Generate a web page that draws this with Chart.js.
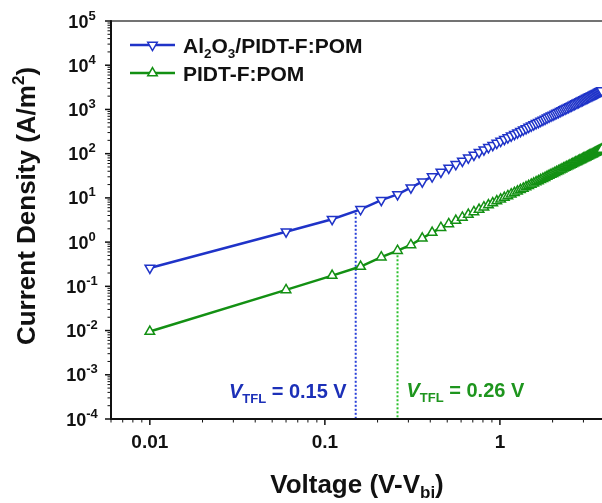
<!DOCTYPE html>
<html><head><meta charset="utf-8">
<script src="https://cdn.jsdelivr.net/npm/chart.js@4.4.1/dist/chart.umd.min.js"></script>
<style>html,body{margin:0;padding:0;background:#fff;overflow:hidden}#wrap{position:relative;width:602px;height:503px}</style>
</head><body><div id="wrap"><canvas id="c" width="602" height="503"></canvas></div>
<script>
// ---- data ----
const voltages = [0.01,0.06,0.11,0.16,0.21,0.26,0.31,0.36,0.41,0.46,0.51,0.56,0.61,0.66,0.71,0.76,0.81,0.86,0.91,0.96,
  1.01,1.06,1.11,1.16,1.21,1.26,1.31,1.36,1.41,1.46,1.51,1.56,1.61,1.66,1.71,1.76,1.81,1.86,1.91,1.96,
  2.01,2.06,2.11,2.16,2.21,2.26,2.31,2.36,2.41,2.46,2.51,2.56,2.61,2.66,2.71,2.76,2.81,2.86,2.91,2.96,
  3.01,3.06,3.11,3.16,3.21,3.26,3.31,3.36,3.41,3.46,3.51,3.56,3.61,3.66,3.71,3.76,3.81];
const currentAl2O3 = [0.26,1.72,3.3,5.5,8.9,12.0,17.0,23.2,30.4,38.5,47.5,57.5,68.5,80.6,93.6,108,123,139,156,174,
  193,212,232,253,275,298,322,347,373,399,427,455,485,515,546,578,611,645,680,716,
  752,790,828,867,908,949,991,1034,1078,1122,1168,1214,1262,1310,1359,1409,1460,1512,1565,1619,
  1673,1729,1785,1842,1900,1960,2020,2080,2142,2205,2269,2333,2399,2465,2532,2600,2669];
const currentPIDT = [0.0095,0.083,0.175,0.28,0.456,0.64,0.865,1.22,1.64,2.12,2.58,3.07,3.61,4.19,4.80,5.45,6.15,6.88,7.65,8.47,
  9.31,10.2,11.1,12.1,13.1,14.1,15.2,16.4,17.6,18.8,20.1,21.4,22.8,24.2,25.7,27.2,28.7,30.3,32.0,33.6,
  35.3,37.1,38.9,40.7,42.6,44.5,46.5,48.5,50.5,52.6,54.7,56.9,59.1,61.4,63.7,66.0,68.3,70.8,73.2,75.7,
  78.3,80.9,83.5,86.1,88.9,91.6,94.4,97.2,100,103,106,109,112,115,118,121,125];
const seriesNames = ['Al2O3/PIDT-F:POM', 'PIDT-F:POM'];
const vtflVoltages = [0.15, 0.26];
const vtflTopCurrent = [4.6, 0.62];
const vtflLabels = ['0.15 V', '0.26 V'];
const xTickLabels = [0.01, 0.1, 1];
const yDecades = [-4, -3, -2, -1, 0, 1, 2, 3, 4, 5];
const xRange = [0.006, 3.83];
const yRange = [1e-4, 1e5];

// ---- styling ----
const FONT = "'Liberation Sans', Arial, sans-serif";
const BLUE = '#1f33c8', GREEN = '#139013';
const BLUE_DOT = '#2a40d8', GREEN_DOT = '#2cc02c';
const BLUE_TXT = '#1c30b8', GREEN_TXT = '#1e951e';

function isMajor(v){ const l = Math.log10(v); return Math.abs(l - Math.round(l)) < 1e-6; }
function logTicks(min, max){
  const out = [];
  for (let e = Math.floor(Math.log10(min)); e <= Math.ceil(Math.log10(max)); e++){
    for (let m = 1; m <= 9; m++){
      const v = parseFloat((m * Math.pow(10, e)).toPrecision(6));
      if (v >= min * 0.9999 && v <= max * 1.0001) out.push({value: v});
    }
  }
  return out;
}
function fontStr(p){ return (p.i ? 'italic ' : '') + 'bold ' + p.s + 'px ' + FONT; }
function rich(ctx, parts, x, y, align, color){
  let w = 0;
  parts.forEach(p => { ctx.font = fontStr(p); p.w = ctx.measureText(p.t).width; w += p.w; });
  let cx = align === 'center' ? x - w / 2 : (align === 'right' ? x - w : x);
  ctx.textAlign = 'left'; ctx.textBaseline = 'alphabetic'; ctx.fillStyle = color;
  parts.forEach(p => { ctx.font = fontStr(p); ctx.fillText(p.t, cx, y + (p.dy || 0)); cx += p.w; });
}
function seg(ctx, x1, y1, x2, y2){ ctx.beginPath(); ctx.moveTo(x1, y1); ctx.lineTo(x2, y2); ctx.stroke(); }

const deco = {
  id: 'deco',
  afterDraw(chart){
    const {ctx, chartArea: a, scales: {x, y}} = chart;
    ctx.save();
    // frame top
    ctx.strokeStyle = '#444'; ctx.lineWidth = 1.5;
    seg(ctx, a.left, a.top, a.right, a.top);
    // axes lines
    ctx.strokeStyle = '#111'; ctx.lineWidth = 2;
    seg(ctx, a.left, a.top - 0.75, a.left, a.bottom + 1);
    seg(ctx, a.left - 1, a.bottom, a.right, a.bottom);
    // y ticks
    y.ticks.forEach(t => {
      const py = y.getPixelForValue(t.value), mj = isMajor(t.value);
      ctx.lineWidth = mj ? 1.5 : 1;
      seg(ctx, a.left - (mj ? 6 : 3.5), py, a.left, py);
    });
    x.ticks.forEach(t => {
      const px = x.getPixelForValue(t.value), mj = isMajor(t.value);
      ctx.lineWidth = mj ? 1.5 : 1;
      seg(ctx, px, a.bottom, px, a.bottom + (mj ? 6 : 3.5));
    });
    // y labels
    yDecades.forEach(d => {
      const py = y.getPixelForValue(Math.pow(10, d));
      rich(ctx, [{t: '10', s: 18}, {t: String(d), s: 13, dy: -8}], 82, py + 6.5, 'center', '#111');
    });
    // axis titles
    ctx.save();
    ctx.translate(35, 206); ctx.rotate(-Math.PI / 2);
    rich(ctx, [{t: 'Current Density (A/m', s: 26}, {t: '2', s: 17, dy: -11}, {t: ')', s: 26}], 0, 0, 'center', '#111');
    ctx.restore();
    rich(ctx, [{t: 'Voltage (V-V', s: 26}, {t: 'bi', s: 17, dy: 5}, {t: ')', s: 26}], 357, 493, 'center', '#111');
    // legend
    const rows = [
      {yy: 45, c: BLUE, rot: 180, parts: [{t: 'Al', s: 21}, {t: '2', s: 13.5, dy: 5}, {t: 'O', s: 21}, {t: '3', s: 13.5, dy: 5}, {t: '/PIDT-F:POM', s: 21}]},
      {yy: 73, c: GREEN, rot: 0, parts: [{t: seriesNames[1], s: 21}]}
    ];
    rows.forEach(r => {
      ctx.strokeStyle = r.c; ctx.lineWidth = 2.5;
      seg(ctx, 130, r.yy, 175, r.yy);
      ctx.fillStyle = '#fff'; ctx.lineWidth = 1.5;
      Chart.helpers.drawPoint(ctx, {pointStyle: 'triangle', rotation: r.rot, radius: 5.5, borderWidth: 1.5}, 152.5, r.yy);
      rich(ctx, r.parts, 183, r.yy + 7.5, 'left', '#111');
    });
    // V_TFL annotations
    const bx = x.getPixelForValue(vtflVoltages[0]), gx = x.getPixelForValue(vtflVoltages[1]);
    rich(ctx, [{t: 'V', s: 20, i: true}, {t: 'TFL', s: 13, dy: 5}, {t: ' = ' + vtflLabels[0], s: 20}], bx - 9, a.bottom - 21, 'right', BLUE_TXT);
    rich(ctx, [{t: 'V', s: 20, i: true}, {t: 'TFL', s: 13, dy: 5}, {t: ' = ' + vtflLabels[1], s: 20}], gx + 9, a.bottom - 22, 'left', GREEN_TXT);
    ctx.restore();
  }
};

const pts = arr => voltages.map((v, i) => ({x: v, y: arr[i]}));
const seriesStyle = (c, rot) => ({borderColor: c, backgroundColor: '#fff', borderWidth: 2.5, pointStyle: 'triangle', pointRotation: rot,
  pointRadius: 5.5, pointBorderWidth: 1.5, pointBackgroundColor: '#fff', pointBorderColor: c, tension: 0});

new Chart(document.getElementById('c'), {
  type: 'line',
  data: {
    datasets: [
      Object.assign({label: seriesNames[0], data: pts(currentAl2O3)}, seriesStyle(BLUE, 180)),
      Object.assign({label: seriesNames[1], data: pts(currentPIDT)}, seriesStyle(GREEN, 0)),
      {label: 'VTFL1', data: [{x: vtflVoltages[0], y: vtflTopCurrent[0]}, {x: vtflVoltages[0], y: yRange[0]}],
        borderColor: BLUE_DOT, borderWidth: 2, borderDash: [2, 2], pointRadius: 0},
      {label: 'VTFL2', data: [{x: vtflVoltages[1], y: vtflTopCurrent[1]}, {x: vtflVoltages[1], y: yRange[0]}],
        borderColor: GREEN_DOT, borderWidth: 2, borderDash: [2, 2], pointRadius: 0}
    ]
  },
  options: {
    responsive: false, animation: false, devicePixelRatio: 1,
    layout: {autoPadding: false, padding: {top: 21, right: 0, left: 0, bottom: 0}},
    plugins: {legend: {display: false}, tooltip: {enabled: false}},
    scales: {
      x: {
        type: 'logarithmic', min: xRange[0], max: xRange[1],
        grid: {display: false, drawTicks: false}, border: {display: false},
        ticks: {autoSkip: false, maxRotation: 0, padding: 12, color: '#111', font: {family: FONT, size: 19, weight: 'bold'},
          callback: v => { const m = xTickLabels.find(l => Math.abs(Math.log10(l) - Math.log10(v)) < 1e-6); return m === undefined ? '' : String(m); }},
        afterBuildTicks: s => { s.ticks = logTicks(s.min, s.max); },
        afterFit: s => { s.height = 84; s.paddingLeft = 0; s.paddingRight = 0; }
      },
      y: {
        type: 'logarithmic', min: yRange[0], max: yRange[1],
        grid: {display: false, drawTicks: false}, border: {display: false},
        ticks: {display: false},
        afterBuildTicks: s => { s.ticks = logTicks(s.min, s.max); },
        afterFit: s => { s.width = 111; s.paddingTop = 0; s.paddingBottom = 0; }
      }
    }
  },
  plugins: [deco]
});
</script></body></html>
